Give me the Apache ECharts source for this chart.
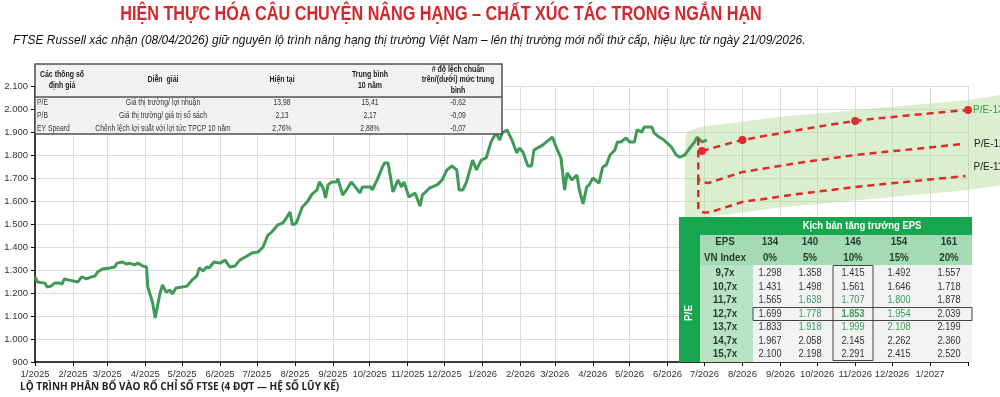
<!DOCTYPE html>
<html>
<head>
<meta charset="utf-8">
<title>VN-Index - kịch bản P/E</title>
<script src="https://cdn.jsdelivr.net/npm/echarts@6/dist/echarts.min.js"></script>
<style>
  html, body { margin: 0; padding: 0; background: #fff; }
  #chart { width: 1000px; height: 397px; }
</style>
</head>
<body>
<div id="chart"></div>
<script>
// VN-Index lịch sử
const indexDates = [
  '2025-01-01','2025-01-03','2025-01-09','2025-01-11','2025-01-14','2025-01-17','2025-01-21','2025-01-23','2025-01-25','2025-01-29',
  '2025-02-05','2025-02-08','2025-02-12','2025-02-16','2025-02-19','2025-02-21','2025-02-25','2025-03-03','2025-03-07','2025-03-09',
  '2025-03-13','2025-03-17','2025-03-19','2025-03-23','2025-03-26','2025-03-30','2025-04-02','2025-04-03','2025-04-07','2025-04-09',
  '2025-04-13','2025-04-15','2025-04-18','2025-04-21','2025-04-23','2025-04-26','2025-05-01','2025-05-05','2025-05-09','2025-05-13',
  '2025-05-15','2025-05-18','2025-05-21','2025-05-23','2025-05-27','2025-06-01','2025-06-05','2025-06-09','2025-06-13','2025-06-17',
  '2025-06-23','2025-06-27','2025-07-02','2025-07-06','2025-07-10','2025-07-13','2025-07-16','2025-07-18','2025-07-22','2025-07-25',
  '2025-07-28','2025-07-30','2025-08-02','2025-08-04','2025-08-07','2025-08-11','2025-08-15','2025-08-17','2025-08-19','2025-08-21',
  '2025-08-24','2025-08-26','2025-08-28','2025-08-31','2025-09-04','2025-09-05','2025-09-09','2025-09-12','2025-09-16','2025-09-23',
  '2025-09-25','2025-10-02','2025-10-03','2025-10-07','2025-10-11','2025-10-13','2025-10-16','2025-10-20','2025-10-24','2025-10-27',
  '2025-10-29','2025-11-02','2025-11-07','2025-11-11','2025-11-13','2025-11-19','2025-11-25','2025-11-29','2025-12-03','2025-12-07',
  '2025-12-11','2025-12-13','2025-12-16','2025-12-19','2025-12-21','2025-12-24','2025-12-27','2025-12-31','2026-01-04','2026-01-08',
  '2026-01-12','2026-01-15','2026-01-17','2026-01-21','2026-01-25','2026-01-29','2026-01-31','2026-02-03','2026-02-07','2026-02-10',
  '2026-02-12','2026-02-19','2026-02-27','2026-03-03','2026-03-06','2026-03-09','2026-03-11','2026-03-15','2026-03-19','2026-03-21',
  '2026-03-24','2026-03-27','2026-03-29','2026-04-01','2026-04-06','2026-04-09','2026-04-12','2026-04-15','2026-04-19','2026-04-21',
  '2026-04-24','2026-04-28','2026-05-01','2026-05-05','2026-05-07','2026-05-11','2026-05-13','2026-05-19','2026-05-21','2026-05-25',
  '2026-05-29','2026-06-04','2026-06-08','2026-06-11','2026-06-15','2026-06-19','2026-06-23','2026-06-25','2026-06-29','2026-07-03'
];
const indexValues = [
  1270,1248,1243,1226,1230,1243,1243,1239,1261,1256,
  1248,1270,1261,1270,1274,1291,1304,1309,1313,1330,
  1335,1326,1330,1322,1330,1317,1313,1226,1157,1091,
  1200,1235,1204,1213,1196,1222,1226,1230,1256,1274,
  1309,1296,1313,1309,1335,1330,1343,1313,1317,1343,
  1361,1374,1378,1400,1452,1465,1483,1496,1504,1526,
  1552,1496,1504,1530,1574,1596,1630,1639,1648,1683,
  1657,1613,1670,1683,1683,1696,1626,1648,1683,1635,
  1661,1661,1648,1691,1743,1765,1765,1639,1691,1661,
  1683,1617,1635,1578,1626,1657,1670,1691,1735,1752,
  1735,1648,1648,1683,1722,1778,1735,1778,1787,1857,
  1896,1865,1896,1909,1865,1809,1830,1813,1752,1752,
  1822,1843,1878,1822,1787,1648,1722,1691,1713,1648,
  1587,1661,1670,1700,1678,1748,1757,1800,1822,1857,
  1857,1874,1857,1857,1909,1900,1922,1922,1896,1878,
  1865,1835,1800,1791,1800,1830,1857,1878,1857,1865
];

// kịch bản P/E (đường đỏ)
const peHighDates = ['2026-06-29','2026-08-01','2026-11-01','2027-02-01'];
const peHighValues = [1817, 1865, 1948, 1996];
const peMidDates = ['2026-06-26','2026-06-26','2026-06-27','2026-06-29','2026-07-04','2026-08-01','2026-09-15','2026-11-01','2027-01-28'];
const peMidValues = [1872, 1700, 1689, 1682, 1678, 1726, 1765, 1800, 1848];
const peLowDates = ['2026-06-26','2026-06-26','2026-06-27','2026-06-30','2026-07-05','2026-08-01','2026-09-15','2026-11-01','2027-01-30'];
const peLowValues = [1700, 1568, 1557, 1551, 1550, 1596, 1630, 1661, 1709];
const peLabels = ['P/E-13,7x', 'P/E-12,7x', 'P/E-11,7x'];

// dải xanh nền
const bandDates = ['2026-06-15','2026-06-17','2026-06-27','2026-08-31','2027-02-01','2027-02-27'];
const bandUpper = [1865, 1900, 1922, 1965, 2039, 2061];
const bandLower = [1520, 1520, 1525, 1572, 1648, 1667];

// bảng định giá
const valuationHeader = ['Các thông số\nđịnh giá', 'Diễn  giải', 'Hiện tại', 'Trung bình\n10 năm', '# độ lệch chuẩn\ntrên/(dưới) mức trung\nbình'];
const valuationRows = [
  ['P/E', 'Giá thị trường/ lợi nhuận', '13,98', '15,41', '-0,62'],
  ['P/B', 'Giá thị trường/ giá trị sổ sách', '2,13', '2,17', '-0,09'],
  ['EY Speard', 'Chênh lệch lợi suất với lợi tức TPCP 10 năm', '2,76%', '2,88%', '-0,07']
];

// bảng kịch bản EPS
const epsLevels = ['134', '140', '146', '154', '161'];
const epsGrowth = ['0%', '5%', '10%', '15%', '20%'];
const peMultiples = ['9,7x', '10,7x', '11,7x', '12,7x', '13,7x', '14,7x', '15,7x'];
const scenarioValues = [
  [1298, 1358, 1415, 1492, 1557],
  [1431, 1498, 1561, 1646, 1718],
  [1565, 1638, 1707, 1800, 1878],
  [1699, 1778, 1853, 1954, 2039],
  [1833, 1918, 1999, 2108, 2199],
  [1967, 2058, 2145, 2262, 2360],
  [2100, 2198, 2291, 2415, 2520]
];
const greenCells = ['2-1', '2-2', '2-3', '3-1', '3-2', '3-3', '4-1', '4-2', '4-3'];

const sans = '"Liberation Sans", Arial, sans-serif';
const GREEN = '#3d9b57';
const RED = '#dd2c2a';
const DAY = 86400000;

const parseDay = (s) => { const p = s.split('-'); return new Date(+p[0], +p[1] - 1, +p[2]).getTime(); };
const zip = (d, v) => d.map((x, i) => [x, v[i]]);
const fmtThousand = (v) => v >= 1000 ? String(v).replace(/(\d)(\d{3})$/, '$1.$2') : String(v);
const axisMax = parseDay('2027-02-01');

const chart = echarts.init(document.getElementById('chart'));

// --- các khối graphic: tiêu đề, bảng ---
// sx: nén ngang chữ (không có font condensed)
const txt = (x, y, text, font, fill, align, sx, extra) => Object.assign({
  type: 'text', x: x, y: y, z: 100, scaleX: sx || 1,
  style: { text: text, font: font, fill: fill || '#222', align: align || 'center', verticalAlign: 'middle', lineHeight: 10.5 }
}, extra || {});
const rect = (x, y, w, h, fill, stroke, lw) => ({
  type: 'rect', z: 99, shape: { x: x, y: y, width: w, height: h },
  style: { fill: fill || 'none', stroke: stroke || null, lineWidth: lw || 0 }
});

const graphics = [];
graphics.push(txt(441, 14, 'HIỆN THỰC HÓA CÂU CHUYỆN NÂNG HẠNG – CHẤT XÚC TÁC TRONG NGẮN HẠN', 'bold 20px ' + sans, '#d7262b', 'center', 0.81));
graphics.push(txt(13, 40, 'FTSE Russell xác nhận (08/04/2026) giữ nguyên lộ trình nâng hạng thị trường Việt Nam – lên thị trường mới nổi thứ cấp, hiệu lực từ ngày 21/09/2026.', 'italic 13px ' + sans, '#111', 'left', 0.918));
graphics.push(txt(20, 387, 'LỘ TRÌNH PHÂN BỔ VÀO RỔ CHỈ SỐ FTSE (4 ĐỢT — HỆ SỐ LŨY KẾ)', 'bold 10px "Open Sans", sans-serif', '#222', 'left'));

// bảng định giá góc trên trái
const vCols = [62, 163, 282, 370, 458];
const vRowsY = [103, 116, 129];
graphics.push(rect(35, 64, 467, 70, '#f2f2f2', '#505050', 1.5));
graphics.push({ type: 'line', z: 100, shape: { x1: 35, y1: 97, x2: 502, y2: 97 }, style: { stroke: '#505050', lineWidth: 1.5 } });
valuationHeader.forEach((h, i) => graphics.push(txt(vCols[i], 80, h, 'bold 8.5px ' + sans, '#222', 'center', 0.82)));
valuationRows.forEach((row, r) => {
  row.forEach((cell, c) => {
    if (c === 0) graphics.push(txt(37, vRowsY[r], cell, '8.5px ' + sans, '#333', 'left', 0.8));
    else graphics.push(txt(vCols[c], vRowsY[r], cell, '8.5px ' + sans, '#333', 'center', 0.8));
  });
});

// bảng kịch bản EPS góc dưới phải
const tX = 679, tY = 217, tR = 972, tB = 362;
const sCols = [770, 810, 853, 899, 949];
const sRowsY = [273, 286.5, 300, 313.5, 327, 340.5, 354];
const darkTxt = '#1f3d29';
graphics.push(rect(tX, tY, tR - tX, tB - tY, '#17a64e'));
graphics.push(rect(700, 235, tR - 700, 30, '#a4dab4'));
graphics.push(rect(700, 265, 53, tB - 265, '#b8e3c4'));
graphics.push(rect(753, 265, tR - 753, tB - 265, '#f3f3f3'));
graphics.push(txt(862, 226, 'Kịch bản tăng trưởng EPS', 'bold 11px ' + sans, '#fff', 'center', 0.86));
graphics.push(txt(689, 313, 'P/E', 'bold 11px ' + sans, '#fff', 'center', 0.9, { rotation: Math.PI / 2 }));
graphics.push(txt(725, 242, 'EPS', 'bold 11.5px ' + sans, darkTxt, 'center', 0.85));
graphics.push(txt(725, 258, 'VN Index', 'bold 11.5px ' + sans, darkTxt, 'center', 0.85));
epsLevels.forEach((v, i) => graphics.push(txt(sCols[i], 242, v, 'bold 11.5px ' + sans, darkTxt, 'center', 0.85)));
epsGrowth.forEach((v, i) => graphics.push(txt(sCols[i], 258, v, 'bold 11.5px ' + sans, darkTxt, 'center', 0.85)));
peMultiples.forEach((m, r) => {
  graphics.push(txt(725, sRowsY[r], m, 'bold 11.5px ' + sans, darkTxt, 'center', 0.85));
  scenarioValues[r].forEach((v, c) => {
    const isGreen = greenCells.indexOf(r + '-' + c) >= 0;
    const isBold = r === 3 && c === 2;
    graphics.push(txt(sCols[c], sRowsY[r], fmtThousand(v), (isBold ? 'bold ' : '') + '11.5px ' + sans, isGreen ? '#3a9a5a' : '#333', 'center', 0.8));
  });
});
graphics.push(rect(833, 265.5, 40, 95, 'none', '#444', 1));
graphics.push(rect(753, 307.5, 219, 13, 'none', '#444', 1));

const dashed = { color: RED, width: 2.5, type: [7, 5] };

const option = {
  animation: false,
  backgroundColor: '#fff',
  grid: { left: 35, right: 32, top: 86, bottom: 35, outerBoundsMode: 'none' },
  xAxis: {
    type: 'time',
    min: parseDay('2025-01-01'),
    max: axisMax,
    splitNumber: 26,
    minInterval: 28 * DAY,
    maxInterval: 31 * DAY,
    axisLine: { lineStyle: { color: '#000', width: 1.5 } },
    axisTick: { show: true, length: 4, lineStyle: { color: '#000' } },
    axisLabel: {
      color: '#333', fontSize: 9.5, fontFamily: sans, margin: 7, hideOverlap: false,
      formatter: (v) => {
        const d = new Date(v);
        if (v >= axisMax) return '';
        return (d.getMonth() + 1) + '/' + d.getFullYear();
      }
    },
    splitLine: { show: true, lineStyle: { color: '#dcdcdc' } }
  },
  yAxis: {
    type: 'value', min: 900, max: 2100, interval: 100,
    axisLine: { show: true, lineStyle: { color: '#000', width: 1.5 } },
    axisTick: { show: true, length: 4, lineStyle: { color: '#000' } },
    axisLabel: { color: '#333', fontSize: 9.5, fontFamily: sans, margin: 7, formatter: fmtThousand },
    splitLine: { lineStyle: { color: '#dcdcdc' } }
  },
  series: [
    {
      type: 'custom', name: 'band', clip: false, silent: true, z: 1,
      data: [[bandDates[0], bandUpper[0]]],
      renderItem: (params, api) => {
        const top = bandDates.map((d, i) => api.coord([parseDay(d), bandUpper[i]]));
        const bottom = bandDates.map((d, i) => api.coord([parseDay(d), bandLower[i]])).reverse();
        return {
          type: 'polygon',
          shape: { points: top.concat(bottom) },
          style: { fill: 'rgba(170, 214, 140, 0.42)' }
        };
      }
    },
    {
      type: 'line', name: 'VN-Index', z: 3,
      data: zip(indexDates, indexValues),
      showSymbol: false,
      lineStyle: { color: GREEN, width: 3 },
      itemStyle: { color: GREEN }
    },
    {
      type: 'line', name: peLabels[0], z: 4, clip: false,
      data: zip(peHighDates, peHighValues),
      smooth: 0.2, symbol: 'circle', symbolSize: 8, showSymbol: true,
      lineStyle: dashed,
      itemStyle: { color: RED },
      endLabel: { show: true, formatter: peLabels[0], color: '#3a9a4a', fontSize: 10, fontFamily: sans, distance: 5 }
    },
    {
      type: 'line', name: peLabels[1], z: 4, clip: false,
      data: zip(peMidDates, peMidValues),
      showSymbol: false,
      lineStyle: dashed,
      endLabel: { show: true, formatter: peLabels[1], color: '#222', fontSize: 10, fontFamily: sans, distance: 5, offset: [6, 0] }
    },
    {
      type: 'line', name: peLabels[2], z: 4, clip: false,
      data: zip(peLowDates, peLowValues),
      showSymbol: false,
      lineStyle: dashed,
      endLabel: { show: true, formatter: peLabels[2], color: '#222', fontSize: 10, fontFamily: sans, distance: 5, offset: [3, -9] }
    }
  ],
  graphic: graphics
};

chart.setOption(option);
</script>
</body>
</html>
